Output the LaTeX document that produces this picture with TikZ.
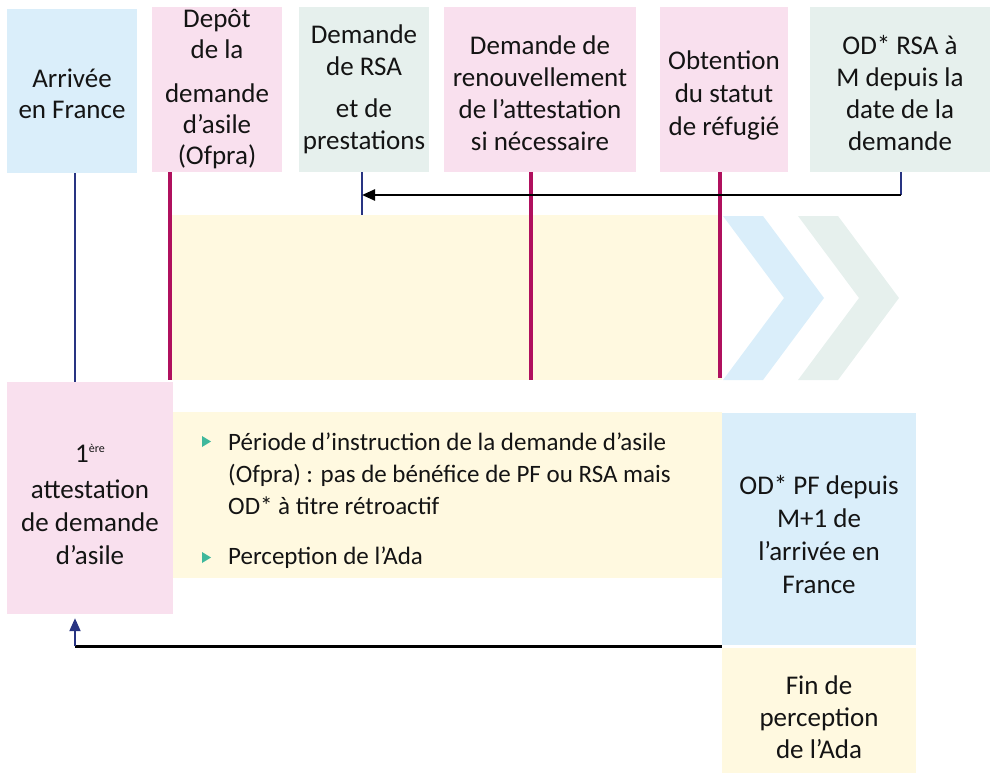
\documentclass[tikz,border=0pt]{standalone}
\usepackage{fontspec}
\setmainfont{Carlito}
\usetikzlibrary{arrows.meta}
\definecolor{cblue}{RGB}{218,238,250}
\definecolor{cpink}{RGB}{249,224,238}
\definecolor{cgreen}{RGB}{230,240,237}
\definecolor{cyellow}{RGB}{255,249,224}
\definecolor{cmag}{RGB}{176,16,94}
\definecolor{cnavy}{RGB}{40,52,130}
\definecolor{cteal}{RGB}{63,184,156}
\definecolor{ctext}{RGB}{20,20,20}
\begin{document}
\begin{tikzpicture}[x=1pt,y=-1pt,
  box/.style={inner sep=0pt, align=center, text=ctext, font=\fontsize{27}{32}\selectfont},
  lbl/.style={inner sep=0pt, align=center, text=ctext, font=\fontsize{27}{#1}\selectfont},
  magline/.style={draw=cmag, line width=4pt},
  navyline/.style={draw=cnavy, line width=2pt},
  blkline/.style={draw=black, line width=2.4pt},
  tip/.style={-{Triangle[length=13pt,width=11pt]}}]
\useasboundingbox (0,0) rectangle (995,773);
% top boxes
\node[box, fill=cblue, minimum width=130pt, minimum height=164pt,
  label={[lbl=31, yshift=-3pt]center:{Arrivée\\en France}}] (arr) at (72,91) {};
\node[box, fill=cpink, minimum width=130pt, minimum height=165pt,
  label={[lbl=31]center:{Depôt\\de la\\[13pt]demande\\d’asile\\(Ofpra)}}] (dep) at (217,89.5) {};
\node[box, fill=cgreen, minimum width=130pt, minimum height=165pt,
  label={[lbl=32]center:{Demande\\de RSA\\[10pt]et de\\prestations}}] (rsa) at (364,89.5) {};
\node[box, fill=cpink, minimum width=192pt, minimum height=165pt,
  label={[lbl=32, yshift=-4pt]center:{Demande de\\renouvellement\\de l’attestation\\si nécessaire}}] (ren) at (540,89.5) {};
\node[box, fill=cpink, minimum width=128pt, minimum height=165pt,
  label={[lbl=33, yshift=-6pt]center:{Obtention\\du statut\\de réfugié}}] (obt) at (724,89.5) {};
\node[box, fill=cgreen, minimum width=180pt, minimum height=165pt,
  label={[lbl=32, yshift=-4pt]center:{OD* RSA à\\M depuis la\\date de la\\demande}}] (odr) at (900,89.5) {};
% band and chevrons
\node[fill=cyellow, inner sep=0pt, minimum width=550pt, minimum height=165pt] (band) at (447,297.5) {};
\fill[cblue] (723,216) -- (763,216) -- (824,298) -- (763,380) -- (723,380) -- (784,298) -- cycle;
\fill[cgreen] (798,216) -- (838,216) -- (899,298) -- (838,380) -- (798,380) -- (859,298) -- cycle;
% bottom boxes
\node[box, fill=cpink, minimum width=166pt, minimum height=232pt,
  label={[lbl=33, yshift=-6pt]center:{1\raisebox{10pt}{\fontsize{12}{12}\selectfont ère}\\[3pt]attestation\\de demande\\d’asile}}] (att) at (90,498) {};
\node[fill=cyellow, inner sep=0pt, minimum width=549pt, minimum height=166pt] (txtbox) at (447.5,495) {};
\node[box, fill=cblue, minimum width=194pt, minimum height=232pt,
  label={[lbl=33, yshift=-6pt]center:{OD* PF depuis\\M+1 de\\l’arrivée en\\France}}] (odpf) at (819,529) {};
\node[box, fill=cyellow, minimum width=194pt, minimum height=125pt,
  label={[lbl=32, yshift=-7pt]center:{Fin de\\perception\\de l’Ada}}] (fin) at (819,710.5) {};
% bullet text
\node[anchor=north west, align=left, inner sep=0pt, text=ctext, font=\fontsize{25}{32}\selectfont] (txt) at (228,433) {Période d’instruction de la demande d’asile\\(Ofpra) : pas de bénéfice de PF ou RSA mais\\OD* à titre rétroactif\\[18pt]Perception de l’Ada};
\fill[cteal] (202,436) -- (211,441.5) -- (202,447) -- cycle;
\fill[cteal] (202,552) -- (211,557.5) -- (202,563) -- cycle;
% coordinates
\coordinate (xarr) at (75,0);
\coordinate (xdep) at (170,0);
\coordinate (xrsa) at (362,195);
\coordinate (xren) at (531,0);
\coordinate (xobt) at (720,0);
\coordinate (ar) at (901,195);
% vertical lines
\draw[navyline] (arr.south -| xarr) -- (att.north -| xarr);
\draw[magline] (dep.south -| xdep) -- (band.south -| xdep);
\draw[navyline] (rsa.south -| xrsa) -- (band.north -| xrsa);
\draw[magline] (ren.south -| xren) -- (band.south -| xren);
\draw[magline] (obt.south -| xobt) -- ([yshift=2pt]band.south -| xobt);
% top arrow
\draw[navyline] (odr.south -| ar) -- (ar);
\draw[blkline, tip] (ar) -- (xrsa);
% bottom arrow
\coordinate (bl) at (fin.north west -| xarr);
\draw[blkline] ([yshift=1.5pt]fin.north west) -- ([yshift=1.5pt]bl);
\draw[navyline, tip] ([yshift=1.5pt]bl) -- ([yshift=-4pt]att.south -| xarr);
\end{tikzpicture}
\end{document}
